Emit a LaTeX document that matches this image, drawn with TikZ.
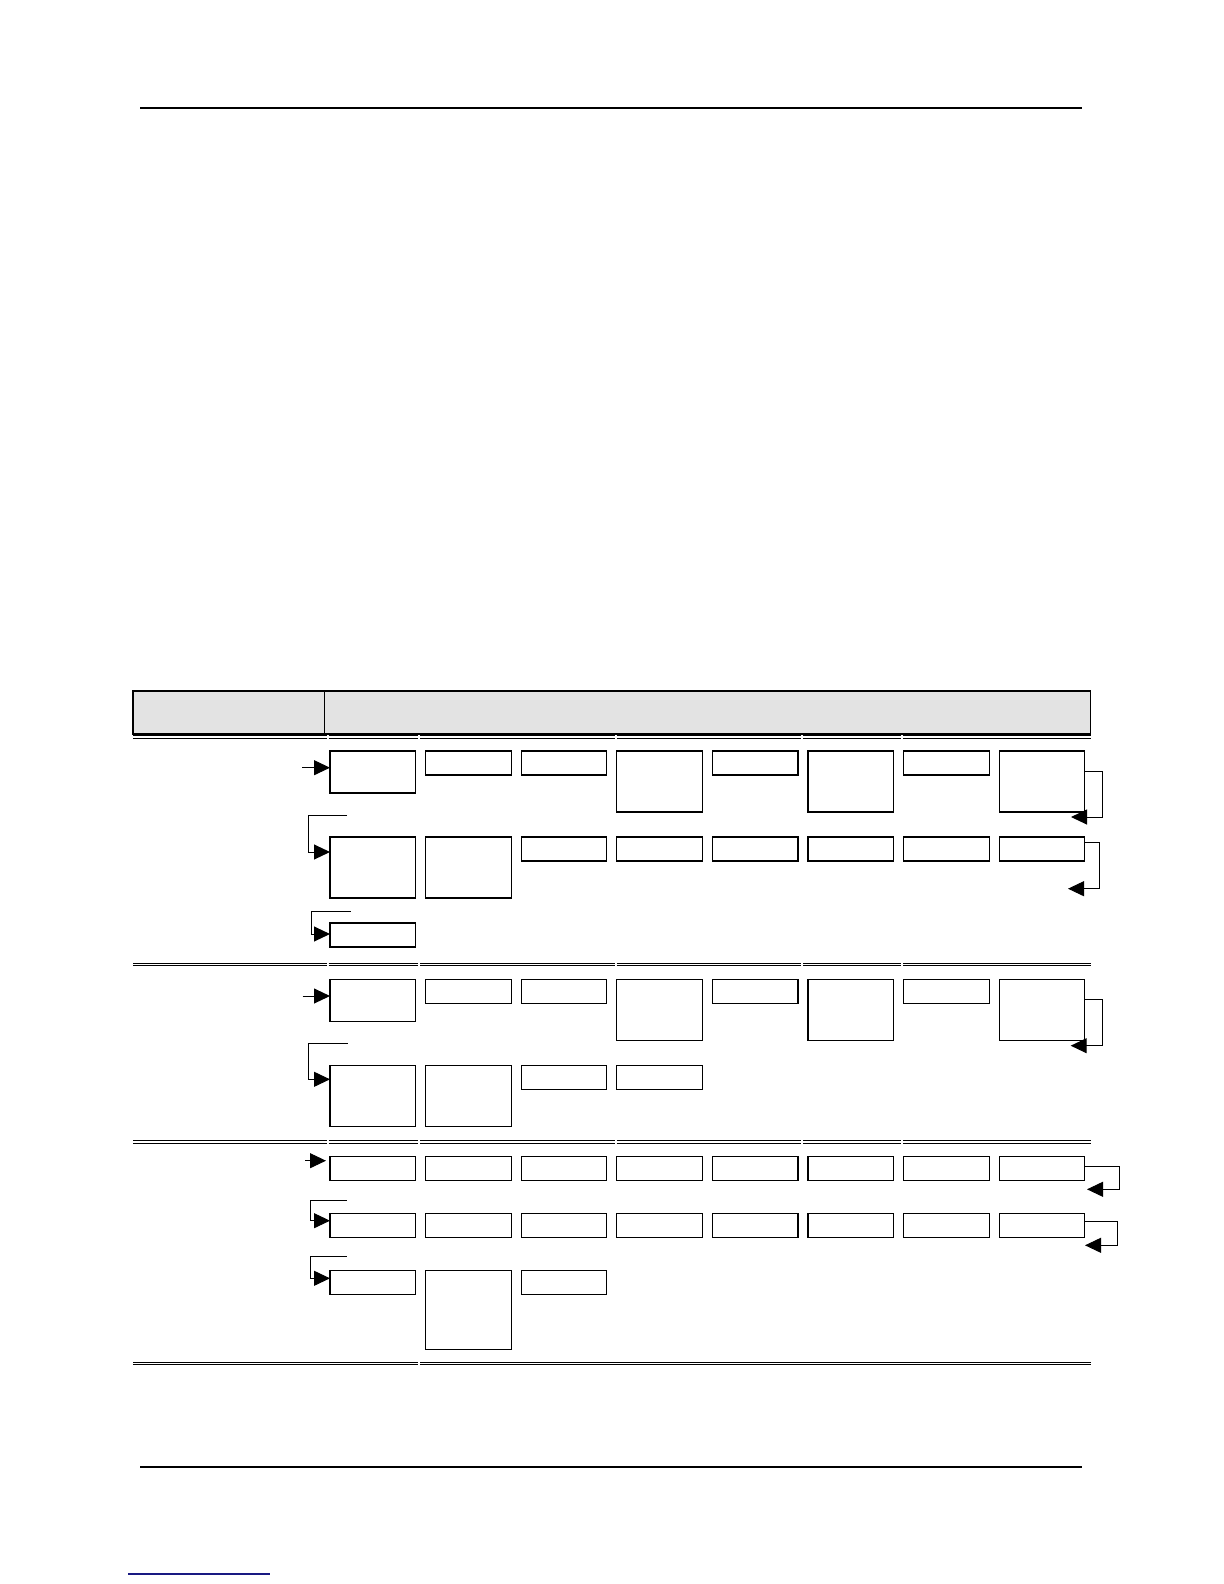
\documentclass[tikz,border=0pt]{standalone}
\usepackage{xcolor}
\usepackage{tikz}
\usetikzlibrary{arrows.meta, calc}

\definecolor{headgray}{RGB}{227,227,227}
\definecolor{linkblue}{RGB}{25,25,130}

\tikzset{
	cell/.style = {draw, line width=0.6pt, anchor=north west, inner sep=0pt, outer sep=0pt, minimum width=42.75pt},
	flow/.style = {line width=0.5pt, -{Triangle[length=8pt,width=7.5pt]}},
	rulepen/.style = {line width=0.5pt}
}

\newcommand\splitrule[2]{%
	\foreach \xa/\xb in #2 {
		\draw[rulepen] (\xa,#1) -- (\xb,#1);
		\draw[rulepen] (\xa,#1+2.4) -- (\xb,#1+2.4);
	}%
}
\def\cellgaps{133/326.5, 328.5/418.3, 420.3/614.5, 616.5/801.3, 803.3/901.3, 903.3/1090.7}

\begin{document}
\begin{tikzpicture}[x=0.5pt, y=-0.5pt]
			\def\dx{95.6};
			\def\xo{330};

			\useasboundingbox (0,0) rectangle (1224,1584);

			% page rules
			\draw[line width=0.75pt] (140,108) -- (1082,108);
			\draw[line width=0.75pt] (140,1467) -- (1082,1467);
			\draw[linkblue, line width=0.75pt] (128,1574) -- (270,1574);

			% header
			\draw[line width=0.6pt, fill=headgray] (133,691) rectangle (1090.7,734);
			\draw[line width=0.6pt] (324.7,691) -- (324.7,734);

			\splitrule{735.7}{\cellgaps}
			\splitrule{963.3}{\cellgaps}
			\splitrule{1140.7}{\cellgaps}
			\splitrule{1362}{{133/418.3, 420.3/1090.7}}

			% first block
			\foreach \h [count=\i] in {21,12,12,30.5,12,30.5,12,30.5}
				\node[cell, minimum height=\h pt] (s1a\i) at ({\xo+\dx*(\i-1)},751) {};
			\foreach \h [count=\i] in {30.5,30.5,12,12,12,12,12,12}
				\node[cell, minimum height=\h pt] (s1b\i) at ({\xo+\dx*(\i-1)},837) {};
			\node[cell, minimum height=12pt] (s1c1) at (\xo,923) {};

			\coordinate (in1) at (302,767.7);
			\draw[flow] (in1) -- (in1 -| s1a1.west);

			\coordinate (r1) at (1102,771);
			\coordinate (r1e) at (1071,817);
			\draw[flow] (s1a8.east |- r1) -- (r1) |- (r1e);

			\coordinate (e1) at (347,815);
			\coordinate (e1d) at (308,852);
			\draw[flow] (e1) -| (e1d) -- (e1d -| s1b1.west);

			\coordinate (r2) at (1099,842);
			\coordinate (r2e) at (1068,888.7);
			\draw[flow] (s1b8.east |- r2) -- (r2) |- (r2e);

			\coordinate (e2) at (350.7,911);
			\coordinate (e2d) at (311.7,934);
			\draw[flow] (e2) -| (e2d) -- (e2d -| s1c1.west);

			% second block
			\foreach \h [count=\i] in {21,12,12,30.5,12,30.5,12,30.5}
				\node[cell, minimum height=\h pt] (s2a\i) at ({\xo+\dx*(\i-1)},979.3) {};
			\foreach \h [count=\i] in {30.5,30.5,12,12}
				\node[cell, minimum height=\h pt] (s2b\i) at ({\xo+\dx*(\i-1)},1065.7) {};

			\coordinate (in2) at (302.7,996);
			\draw[flow] (in2) -- (in2 -| s2a1.west);

			\coordinate (r3) at (1102.7,999.7);
			\coordinate (r3e) at (1070.7,1045.7);
			\draw[flow] (s2a8.east |- r3) -- (r3) |- (r3e);

			\coordinate (e3) at (347.7,1043.7);
			\coordinate (e3d) at (308.7,1079.3);
			\draw[flow] (e3) -| (e3d) -- (e3d -| s2b1.west);

			% third block
			\foreach \i in {1,...,8}
				\node[cell, minimum height=12pt] (s3a\i) at ({\xo+\dx*(\i-1)},1156.3) {};
			\foreach \i in {1,...,8}
				\node[cell, minimum height=12pt] (s3b\i) at ({\xo+\dx*(\i-1)},1213.3) {};
			\foreach \h [count=\i] in {12,39.5,12}
				\node[cell, minimum height=\h pt] (s3c\i) at ({\xo+\dx*(\i-1)},1270.7) {};

			\coordinate (in3) at (305,1160.7);
			\draw[flow] (in3) -- ($(in3 -| s3a1.west)+(-4,0)$);

			\coordinate (r4) at (1119,1166.7);
			\coordinate (r4e) at (1087,1189.3);
			\draw[flow] (s3a8.east |- r4) -- (r4) |- (r4e);

			\coordinate (e4) at (346.7,1200);
			\coordinate (e4d) at (310.3,1220.7);
			\draw[flow] (e4) -| (e4d) -- (e4d -| s3b1.west);

			\coordinate (r5) at (1117,1221.7);
			\coordinate (r5e) at (1085,1245.3);
			\draw[flow] (s3b8.east |- r5) -- (r5) |- (r5e);

			\coordinate (e5) at (346.7,1256.7);
			\coordinate (e5d) at (310.3,1278.3);
			\draw[flow] (e5) -| (e5d) -- (e5d -| s3c1.west);
		\end{tikzpicture}
\end{document}
